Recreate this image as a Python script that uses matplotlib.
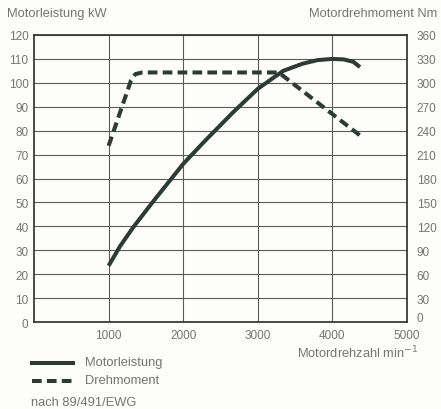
import matplotlib
matplotlib.use("Agg")
import matplotlib.pyplot as plt
from matplotlib.lines import Line2D
import matplotlib.transforms as mtrans

plt.rcParams['font.family'] = ['Liberation Sans', 'DejaVu Sans']

# Data
power_rpm = [1000, 1150, 1330, 1600, 2000, 2300, 2670, 3000, 3340, 3600, 3800, 4000, 4150, 4280, 4370]
power_kw = [23.5, 31.5, 39.6, 50.5, 66.1, 76.0, 87.7, 97.5, 105.0, 108.0, 109.5, 110.0, 109.8, 108.8, 106.6]

torque_rpm = [1000, 1300, 1360, 1450, 2000, 3000, 3280, 4370]
torque_nm = [221, 303, 311, 313, 313, 313, 313, 234]

left_ticks = list(range(0, 121, 10))
right_ticks = list(range(0, 361, 30))
x_ticks = [1000, 2000, 3000, 4000, 5000]

bg = "#fdfdfb"
line_col = "#2f3a37"
txt = "#757575"
grid_col = "#5a5a5a"

fig = plt.figure(figsize=(4.41, 4.10), dpi=100, facecolor=bg)
ax = fig.add_axes([34/441, 1 - 323/410, (407-34)/441, (323-36)/410])
ax.set_facecolor(bg)
ax.set_xlim(0, 5000)
ax.set_ylim(0, 120)
ax.set_yticks(left_ticks)
ax.set_xticks(x_ticks)
ax.grid(True, color=grid_col, linewidth=0.8)
ax.tick_params(length=0, labelsize=8.5, labelcolor=txt, pad=4)
ax.tick_params(axis="x", pad=5)
for s in ax.spines.values():
    s.set_color("#3a3a3a")
    s.set_linewidth(1.3)

ax2 = ax.twinx()
ax2.set_ylim(0, 360)
ax2.set_yticks(right_ticks)
ax2.tick_params(length=0, labelsize=8.5, labelcolor=txt, pad=7)
for s in ax2.spines.values():
    s.set_visible(False)
# lift the right-hand "0" a little, as in the reference, so it clears "5000"
zero_lbl = ax2.yaxis.get_major_ticks()[0].label2
zero_lbl.set_transform(zero_lbl.get_transform() +
                       mtrans.ScaledTranslation(0, 5/100, fig.dpi_scale_trans))

dash = (0, (2.4, 1.3))
ax.plot(power_rpm, power_kw, color=line_col, linewidth=2.9, solid_capstyle="butt")
ax2.plot(torque_rpm, torque_nm, color=line_col, linewidth=2.9, linestyle=dash)

fs = 9.3
fig.text(7/441, 1 - 14/410, "Motorleistung kW", fontsize=fs, color=txt, va="center", ha="left")
fig.text(437/441, 1 - 14/410, "Motordrehmoment Nm", fontsize=fs, color=txt, va="center", ha="right")
fig.text(418/441, 1 - 353/410, "Motordrehzahl min$^{-1}$", fontsize=fs, color=txt, va="center", ha="right")

# Legend drawn manually in figure coords
for y, ls, label in [(364, "-", "Motorleistung"), (382, dash, "Drehmoment")]:
    fig.add_artist(Line2D([32/441, 73/441], [1 - y/410, 1 - y/410], color=line_col,
                          linewidth=2.9, linestyle=ls, transform=fig.transFigure))
    fig.text(85/441, 1 - (y - 1)/410, label, fontsize=fs, color=txt, va="center", ha="left")
fig.text(31/441, 1 - 403/410, "nach 89/491/EWG", fontsize=fs, color=txt, va="center", ha="left")

fig.savefig("out.png", dpi=100, facecolor=bg)
